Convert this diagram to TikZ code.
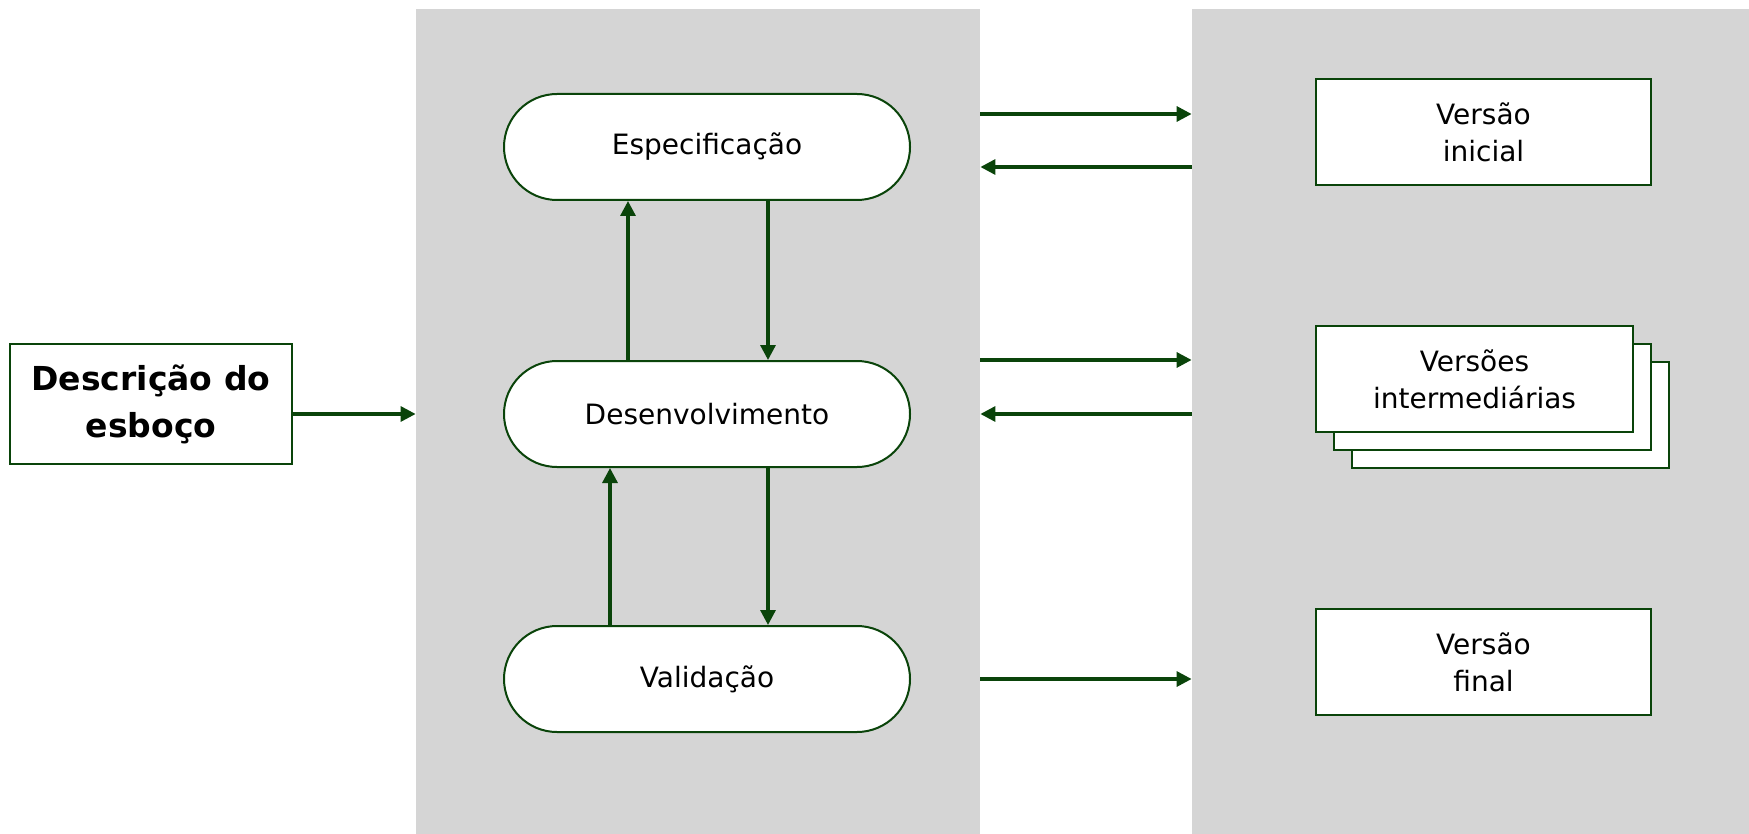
\documentclass[tikz,border=0pt]{standalone}
\usepackage{fontspec}
\setmainfont{DejaVu Sans}
\usetikzlibrary{arrows.meta,positioning,shapes.misc}
\definecolor{darkgreen}{HTML}{0A440A}
\definecolor{panelgray}{HTML}{D5D5D5}

\begin{document}
\begin{tikzpicture}[x=0.5pt,y=-0.5pt,
  panel/.style={fill=panelgray,draw=none,inner sep=0pt,minimum height=412.5pt},
  flow/.style={draw=darkgreen,line width=1.6pt,-{Triangle[length=7.5pt,width=7.5pt]}},
  vbox/.style={draw=darkgreen,line width=1pt,fill=white,inner sep=0pt,align=center,
    font=\fontsize{14}{18.5}\selectfont},
  stage/.style={rounded rectangle,draw=darkgreen,line width=1pt,fill=white,inner sep=0pt,
    minimum width=203pt,minimum height=53pt,font=\fontsize{14}{17}\selectfont}]
  \useasboundingbox[fill=white] (0,0) rectangle (1749,834);
  % panels
  \node[panel,minimum width=282pt] (mid) at (698,421.5) {};
  \node[panel,minimum width=278.5pt] (out) at (1470.5,421.5) {};
  % input
  \node[vbox,font=\bfseries\fontsize{16.5}{23.5}\selectfont,minimum width=141pt,minimum height=60pt]
    (esboco) at (151,404) {Descrição do\\esboço};
  % stages
  \node[stage] (spec) at (707,147) {Especificação};
  \node[stage] (desen) at (707,414) {Desenvolvimento};
  \node[stage] (valid) at (707,679) {Validação};
  % versions
  \node[vbox,minimum width=167.5pt,minimum height=53pt] (vinicial) at (1483.5,132) {Versão\\ inicial};
  \foreach \d in {36,18} {
    \node[vbox,minimum width=158.5pt,minimum height=53pt] at (1474.5+\d,379+\d) {};
  }
  \node[vbox,minimum width=158.5pt,minimum height=53pt] (vinter) at (1474.5,379) {Versões\\intermediárias};
  \node[vbox,minimum width=167.5pt,minimum height=53pt] (vfinal) at (1483.5,662) {Versão\\ final};
  % arrows
  \draw[flow] (esboco.east |- desen) -- (mid.west |- desen);
  \draw[flow] ([xshift=-39.5pt]desen.north) -- ([xshift=-39.5pt]spec.south);
  \draw[flow] ([xshift=30.5pt]spec.south) -- ([xshift=30.5pt]desen.north);
  \draw[flow] ([xshift=-48.5pt]valid.north) -- ([xshift=-48.5pt]desen.south);
  \draw[flow] ([xshift=30.5pt]desen.south) -- ([xshift=30.5pt]valid.north);
  \foreach \y in {114,360,679} {
    \draw[flow] (mid.east |- 0,\y) -- (out.west |- 0,\y);
  }
  \foreach \y in {167,414} {
    \draw[flow] (out.west |- 0,\y) -- (mid.east |- 0,\y);
  }
\end{tikzpicture}
\end{document}
